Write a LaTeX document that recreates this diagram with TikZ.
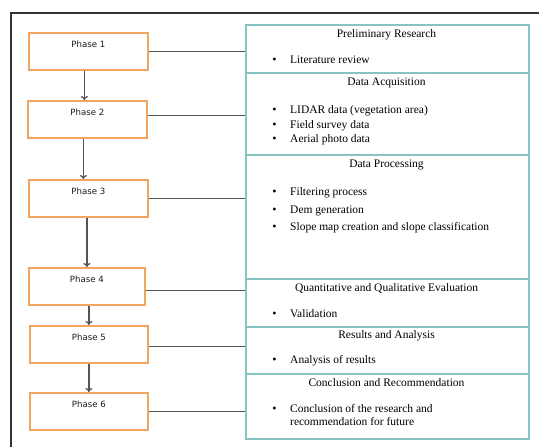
\documentclass[tikz,border=0pt]{standalone}
\usepackage{fontspec}
\setmainfont{Liberation Serif}
\newfontfamily\phasefont{DejaVu Sans}
\usetikzlibrary{arrows.meta}
\definecolor{phaseorange}{HTML}{F2A55E}
\definecolor{secteal}{HTML}{86C3C3}
\definecolor{linegray}{HTML}{555555}
\definecolor{framegray}{HTML}{333333}
\tikzset{
  phasebox/.style={draw=phaseorange, line width=1.8pt, rectangle, minimum width=119pt, minimum height=37pt,
    anchor=north west, inner sep=0pt, font=\phasefont\fontsize{8.6}{10}\selectfont, text=black!90,
    text height=6pt, text depth=13pt},
  secbox/.style={draw=secteal, line width=1.5pt, rectangle, minimum width=283pt, anchor=north west, inner sep=0pt},
  sectitle/.style={anchor=mid, font=\fontsize{11.5}{13}\selectfont, text=black, inner sep=0pt},
  itemtext/.style={anchor=mid west, font=\fontsize{11.5}{13}\selectfont, text=black, inner sep=0pt},
  bulletmark/.style={anchor=mid, font=\fontsize{12}{13}\selectfont, inner sep=0pt},
  arr/.style={draw=linegray, line width=1.3pt, -{To[length=4pt,width=7pt]}},
  conn/.style={draw=linegray, line width=1.3pt},
}
\begin{document}
\begin{tikzpicture}[x=1pt,y=-1pt]
\useasboundingbox (0,0) rectangle (539,447);
\draw[framegray, line width=2.4pt] (11,448) -- (11,13) -- (540,13);

% phase boxes
\node[phasebox] (p1) at (28,32) {Phase 1};
\node[phasebox] (p2) at (27,100) {Phase 2};
\node[phasebox] (p3) at (28,179) {Phase 3};
\node[phasebox, minimum width=116pt] (p4) at (28,267) {Phase 4};
\node[phasebox, minimum width=118pt] (p5) at (29,325) {Phase 5};
\node[phasebox, minimum width=118pt] (p6) at (29,392) {Phase 6};

% section boxes
\node[secbox, minimum height=48pt] (s1) at (245,24) {};
\node[secbox, minimum height=82pt] (s2) at (245,72) {};
\node[secbox, minimum height=124pt] (s3) at (245,154) {};
\node[secbox, minimum height=48pt] (s4) at (245,278) {};
\node[secbox, minimum height=47pt] (s5) at (245,326) {};
\node[secbox, minimum height=65pt] (s6) at (245,373) {};

% arrows
\draw[arr] ([xshift=-4pt]p1.south) -- ([xshift=-4pt]p1.south |- p2.north);
\draw[arr] ([xshift=-4pt]p2.south) -- ([xshift=-4pt]p2.south |- p3.north);
\draw[arr] ([xshift=-1.5pt]p3.south) -- ([xshift=-1.5pt]p3.south |- p4.north);
\draw[arr] ([xshift=2pt]p4.south) -- ([xshift=2pt]p4.south |- p5.north);
\draw[arr] ([xshift=0pt]p5.south) -- ([xshift=0pt]p5.south |- p6.north);

% connectors
\draw[conn] (p1.east) -- (p1.east -| s1.west);
\draw[conn] ([yshift=4pt]p2.east) -- ([yshift=4pt]p2.east -| s2.west);
\draw[conn] (p3.east) -- (p3.east -| s3.west);
\draw[conn] ([yshift=-4pt]p4.east) -- ([yshift=-4pt]p4.east -| s4.west);
\draw[conn] ([yshift=-2pt]p5.east) -- ([yshift=-2pt]p5.east -| s5.west);
\draw[conn] (p6.east) -- (p6.east -| s6.west);

% section titles
\node[sectitle] (t1) at (386.5,35) {Preliminary Research};
\node[sectitle] (t2) at (386.5,83.5) {Data Acquisition};
\node[sectitle] (t3) at (386.5,165.5) {Data Processing};
\node[sectitle] (t4) at (386.5,289) {Quantitative and Qualitative Evaluation};
\node[sectitle] (t5) at (386.5,336.5) {Results and Analysis};
\node[sectitle] (t6) at (386.5,384) {Conclusion and Recommendation};

% bullets and items
\foreach \n/\y/\t in {
  i1/61.5/{Literature review},
  i2/111/{LIDAR data (vegetation area)},
  i3/126/{Field survey data},
  i4/140.5/{Aerial photo data},
  i5/193.5/{Filtering process},
  i6/211/{Dem generation},
  i7/228.5/{Slope map creation and slope classification},
  i8/315/{Validation},
  i9/361.5/{Analysis of results},
  i10/410/{Conclusion of the research and}}
{
  \node[bulletmark] (b\n) at (274.5,\y) {\textbullet};
  \node[itemtext] (\n) at (290,\y) {\t};
}
\node[itemtext] (i11) at (290,422.8) {recommendation for future};
\end{tikzpicture}
\end{document}
